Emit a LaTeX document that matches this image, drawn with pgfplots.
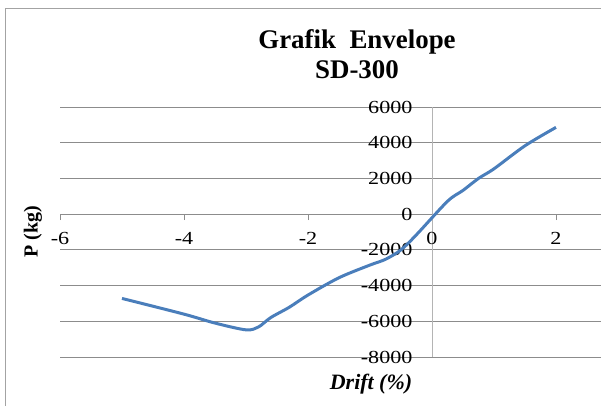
\documentclass[border=0pt]{standalone}
\usepackage{pgfplots}
\pgfplotsset{compat=1.18}
\usepackage{fontspec}
\setmainfont{Liberation Serif}
\usepackage{graphicx}
\definecolor{linec}{HTML}{4A7EBB}
\definecolor{gridc}{HTML}{8C8C8C}
\definecolor{yaxc}{HTML}{B4B4B4}
\begin{document}
\begin{tikzpicture}[x=1bp,y=1bp]
\useasboundingbox (0,0) rectangle (601,406);
\draw[gridc!80, line width=1bp] (5,0) -- (5,397) -- (601,397);
\begin{axis}[
  at={(60bp,49bp)}, anchor=south west,
  scale only axis, width=541bp, height=250bp,
  xmin=-6, xmax=2.726, ymin=-8000, ymax=6000,
  axis x line=middle, axis y line=middle,
  x axis line style={-, draw=gridc, line width=0.75bp},
  y axis line style={-, draw=yaxc, line width=0.75bp},
  xtick={-6,-4,-2,0,2},
  ytick={-8000,-6000,-4000,-2000,0,2000,4000,6000},
  hide obscured x ticks=false, hide obscured y ticks=false,
  tick align=outside,
  major tick length=6bp,
  xtick style={draw=gridc, line width=0.75bp},
  ytick style={draw=none},
  ymajorgrids=true,
  grid style={draw=gridc, line width=0.75bp},
  /pgf/number format/assume math mode=true,
  /pgf/number format/1000 sep={},
  tick label style={font=\fontsize{18.5}{18.5}\selectfont},
  xticklabel={\scalebox{1.2}[1]{\pgfmathprintnumber{\tick}}},
  yticklabel={\scalebox{1.2}[1]{\pgfmathprintnumber{\tick}}},
  x tick label style={anchor=north, yshift=-9bp},
  y tick label style={anchor=east, xshift=-10bp},
]
\addplot[linec, line width=3bp, smooth, tension=0.5] coordinates {
(-5.0,-4720) (-4.0,-5600) (-3.5,-6100) (-3.0,-6480) (-2.8,-6320)
(-2.6,-5790) (-2.3,-5210) (-2.0,-4530)
(-1.5,-3560) (-1.0,-2850) (-0.75,-2530) (-0.5,-2000) (-0.25,-1150)
(0.25,720) (0.5,1330) (0.75,2000) (1.0,2540) (1.5,3830) (2.0,4860)
};
\end{axis}
\node[anchor=base, font=\bfseries\fontsize{27}{27}\selectfont] at (357,358) {Grafik\ \ Envelope};
\node[anchor=base, font=\bfseries\fontsize{27}{27}\selectfont] at (357,328) {SD-300};
\node[rotate=90, font=\bfseries\fontsize{20}{20}\selectfont] at (33,174) {P (kg)};
\node[anchor=base, font=\bfseries\itshape\fontsize{22}{22}\selectfont] at (371,17) {Drift (\%)};
\end{tikzpicture}
\end{document}
